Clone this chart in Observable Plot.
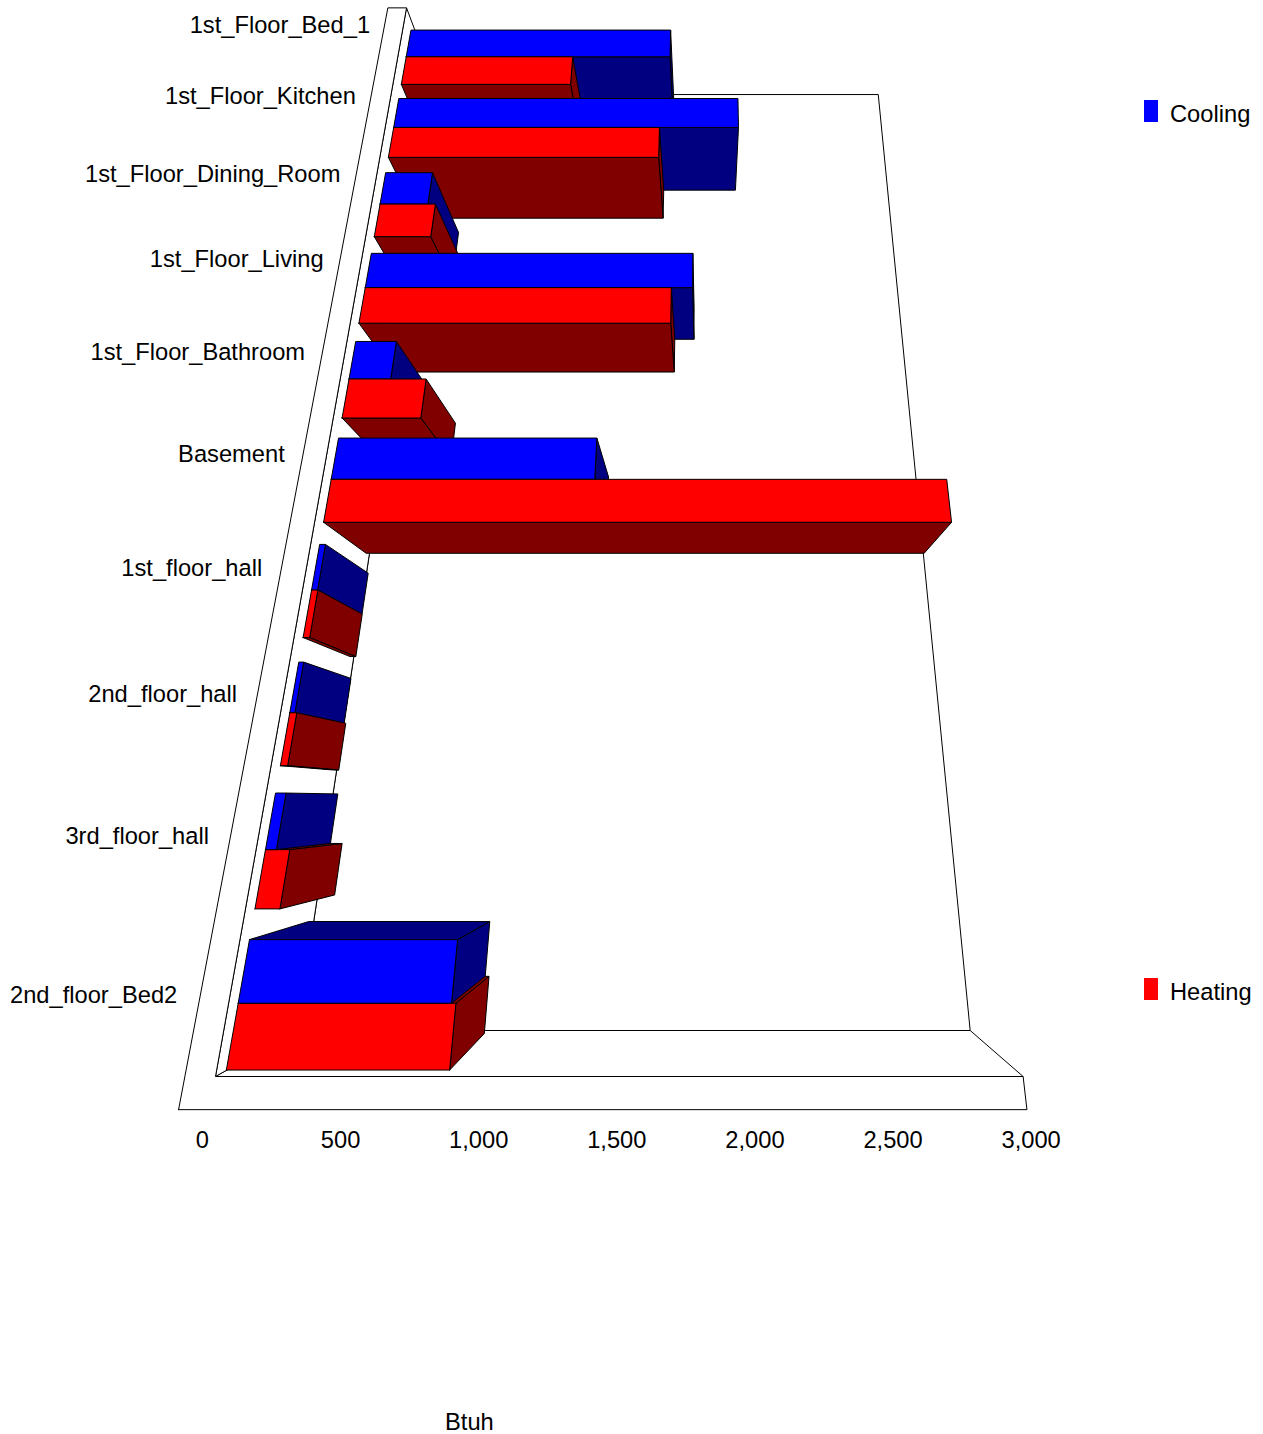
<!DOCTYPE html>
<html><head><meta charset="utf-8">
<script src="https://cdn.jsdelivr.net/npm/d3@7"></script>
<script src="https://cdn.jsdelivr.net/npm/@observablehq/plot@0.6"></script>
<style>
html,body{margin:0;padding:0;background:#fff}
#wrap{position:relative;width:1263px;height:1434px;font-family:"Liberation Sans",Arial,sans-serif;font-size:23.7px;color:#000}
#wrap svg{display:block}
.lg{position:absolute;line-height:26px;white-space:nowrap}
.sw{position:absolute;width:14px;height:22px}
</style></head><body><div id="wrap"></div>
<script>
// Data, bottom row first
const rooms = ["2nd_floor_Bed2","3rd_floor_hall","2nd_floor_hall","1st_floor_hall","Basement","1st_Floor_Bathroom","1st_Floor_Living","1st_Floor_Dining_Room","1st_Floor_Kitchen","1st_Floor_Bed_1"];
const cooling = [833,51,30,37,1284,223,1751,280,2010,1606];
const heating = [850,106,38,38,2985,403,1638,322,1553,1020];
const ticks = [0,500,1000,1500,2000,2500,3000];
const colors = {Cooling:{face:"#0000ff",shade:"#000080"},Heating:{face:"#ff0000",shade:"#800000"}};

// Perspective camera of the 3D chart: value v, row t, depth z -> screen
const cam = {x0:215,y0:1076,a:806/3000,p:0.0639,q:0.2,vrx:705,vry:-1665,vzx:705,vzy:800};
function project(v,t,z){
  const pt=cam.p*t, qz=cam.q*z, w=1+pt+qz;
  return [(cam.x0+cam.a*v+cam.vrx*pt+cam.vzx*qz)/w,(cam.y0+cam.vry*pt+cam.vzy*qz)/w];
}
const polys=[]; let id=0;
function poly(corners,fill){
  id++;
  [...corners,corners[0]].forEach(c=>{const [x,y]=project(...c);polys.push({id,x,y,fill});});
}
// frame
const vMax=3000,tMax=rooms.length,wallV=-114,baseT=-0.187;
const frameV=vMax+6;
poly([[0,0,1],[frameV,0,1],[frameV,tMax-0.008,1],[0,tMax-0.008,1]],"#fff");
poly([[0,0,0],[frameV,0,0],[frameV,0,1],[0,0,1]],"#fff");
poly([[0,0,0],[0,tMax,0],[0,tMax-0.008,1],[0,0,1]],"#fff");
poly([[wallV,baseT,0],[wallV,tMax,0],[0,tMax,0],[0,0,0],[frameV,0,0],[frameV,baseT,0]],"#fff");
// bars
const zF=0.1,zB=0.9,half=0.4,rowShift=0.006;
const v0=t=>4+1.5*t; // small inset of the bar base from the wall
function scaled(v){return v*808/806;}
function bar(val,t0,t1,c){
  const v=scaled(val);
  const tl=project(v0(t1),t1,zF),bl=project(v0(t0),t0,zF),tr=project(v,t1,zF);
  if(tr[0]<cam.vzx) poly([[v,t0,zF],[v,t1,zF],[v,t1,zB],[v,t0,zB]],c.shade);
  if(tl[1]>cam.vzy) poly([[v0(t1),t1,zF],[v,t1,zF],[v,t1,zB],[v0(t1),t1,zB]],c.shade);
  if(bl[1]<cam.vzy) poly([[v0(t0),t0,zF],[v,t0,zF],[v,t0,zB],[v0(t0),t0,zB]],c.shade);
  poly([[v0(t0),t0,zF],[v,t0,zF],[v,t1,zF],[v0(t1),t1,zF]],c.face);
}
d3.range(rooms.length-1,-1,-1).forEach(i=>{
  const b=i+rowShift;
  const heatFirst=project(0,b+half,zF)[1]>cam.vzy;
  const h=()=>bar(heating[i],b,b+half,colors.Heating), k=()=>bar(cooling[i],b+half,b+2*half,colors.Cooling);
  if(heatFirst){h();k();}else{k();h();}
});
const roomLabels=rooms.map((name,i)=>{const [x,y]=project(-148,i+0.5,-0.15);return{name,x,y};});
const tickLabels=ticks.map(v=>{const [x,y]=project(v*808/806,-0.352,-0.0125);return{label:d3.format(",")(v),x,y};});

const chart=Plot.plot({
  width:1263,height:1434,margin:0,
  x:{domain:[0,1263],range:[0,1263],axis:null},
  y:{domain:[0,1434],range:[0,1434],axis:null},
  color:{type:"identity"},
  style:{fontFamily:"'Liberation Sans',Arial,sans-serif",background:"#fff"},
  marks:[
    Plot.line(polys,{x:"x",y:"y",z:"id",fill:"fill",stroke:"#000",strokeWidth:1,strokeLinejoin:"miter",strokeMiterlimit:4}),
    Plot.text(roomLabels,{x:"x",y:"y",dx:0.5,dy:-1.5,text:"name",textAnchor:"end",lineAnchor:"middle",fontSize:23.7,fill:"#000"}),
    Plot.text(tickLabels,{x:"x",y:"y",dx:-0.5,text:"label",textAnchor:"middle",lineAnchor:"middle",fontSize:23.7,fill:"#000"})
  ]
});
const wrap=document.getElementById("wrap");
wrap.appendChild(chart);
[["Cooling",101,101],["Heating",979,979]].forEach(([n,ty,sy])=>{
  const s=document.createElement("div");s.className="sw";s.style.cssText=`left:1143.5px;top:${sy-1}px;background:${colors[n].face}`;wrap.appendChild(s);
  const t=document.createElement("div");t.className="lg";t.textContent=n;t.style.cssText=`left:1170px;top:${ty}px`;wrap.appendChild(t);
});
const xt=document.createElement("div");xt.className="lg";xt.textContent="Btuh";xt.style.cssText="left:445px;top:1409px";wrap.appendChild(xt);
</script></body></html>
